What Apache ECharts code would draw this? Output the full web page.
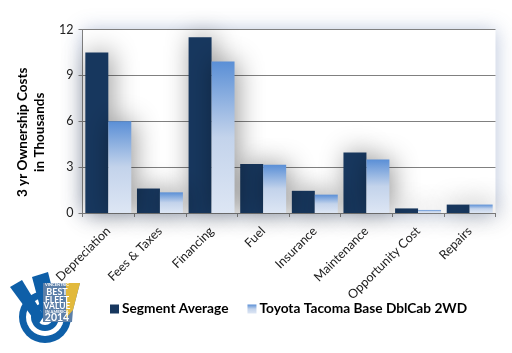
<!DOCTYPE html>
<html>
<head>
<meta charset="utf-8">
<style>
html, body { margin: 0; padding: 0; background: #fff; }
#chart { width: 512px; height: 353px; }
</style>
<script src="https://cdn.jsdelivr.net/npm/echarts@6/dist/echarts.min.js"></script>
</head>
<body>
<div id="chart"></div>
<script>
var categories = ['Depreciation', 'Fees & Taxes', 'Financing', 'Fuel', 'Insurance', 'Maintenance', 'Opportunity Cost', 'Repairs'];
var segmentAverage = [10.5, 1.6, 11.5, 3.2, 1.45, 3.95, 0.3, 0.55];
var toyotaTacoma = [6.0, 1.35, 9.9, 3.15, 1.2, 3.5, 0.2, 0.55];
var seriesNames = ['Segment Average', 'Toyota Tacoma Base DblCab 2WD'];
var yTitle = '3 yr Ownership Costs\nin Thousands';

var chart = echarts.init(document.getElementById('chart'));

var lightBar = new echarts.graphic.LinearGradient(0, 0, 0, 1, [
    {offset: 0, color: '#5a8fd6'},
    {offset: 0.5, color: '#c3d3eb'},
    {offset: 1, color: '#dde6f4'}
]);
var barShadow = {shadowBlur: 26, shadowColor: 'rgba(0,0,0,0.42)', shadowOffsetX: 3};

function badgeText(str, y, size) {
    return {
        type: 'text', x: 57, y: y,
        style: {text: str, fill: '#fff', font: 'bold ' + size + 'px Lato', align: 'center', verticalAlign: 'middle'}
    };
}

var option = {
    animation: false,
    backgroundColor: '#fff',
    textStyle: {fontFamily: 'Lato'},
    grid: {
        left: 82.5, right: 16.5, top: 29.5, bottom: 140,
        outerBoundsMode: 'none',
        show: true,
        backgroundColor: '#fff',
        borderWidth: 0,
        shadowBlur: 18,
        shadowColor: 'rgba(70,100,160,0.38)'
    },
    legend: {
        left: 105, top: 297,
        itemWidth: 9, itemHeight: 9, itemGap: 19,
        icon: 'rect',
        textStyle: {fontFamily: 'Lato', fontWeight: 'bold', fontSize: 13.7, color: '#000', padding: [0, 0, 0, -2]},
        data: seriesNames
    },
    xAxis: {
        type: 'category',
        data: categories,
        axisLine: {lineStyle: {color: '#808080', width: 1}},
        axisTick: {show: true, length: 4, lineStyle: {color: '#808080'}},
        axisLabel: {interval: 0, rotate: 45, fontSize: 12.5, color: '#222', margin: 16}
    },
    yAxis: {
        type: 'value',
        min: 0, max: 12, interval: 3,
        name: yTitle,
        nameLocation: 'middle',
        nameRotate: 90,
        nameGap: 34,
        nameTextStyle: {fontFamily: 'Lato', fontWeight: 'bold', fontSize: 13.5, color: '#000', lineHeight: 17, padding: [0, 22, 0, 0]},
        axisLine: {show: true, lineStyle: {color: '#808080', width: 1}},
        axisTick: {show: true, length: 4, lineStyle: {color: '#808080'}},
        axisLabel: {fontSize: 12.5, color: '#222', margin: 9},
        splitLine: {lineStyle: {color: '#808080', width: 1}}
    },
    series: [
        {
            name: seriesNames[0],
            type: 'bar',
            data: segmentAverage,
            barGap: '0%',
            barCategoryGap: '11%',
            itemStyle: Object.assign({color: '#17375e'}, barShadow)
        },
        {
            name: seriesNames[1],
            type: 'bar',
            data: toyotaTacoma,
            itemStyle: Object.assign({color: lightBar}, barShadow)
        }
    ],
    graphic: [
        // ring
        {type: 'circle', shape: {cx: 45, cy: 317, r: 26}, style: {fill: '#0e5fa8'}},
        {type: 'circle', shape: {cx: 45, cy: 317, r: 19}, style: {fill: '#fff'}},
        {type: 'circle', shape: {cx: 45, cy: 317, r: 14}, style: {fill: '#0e5fa8'}},
        {type: 'circle', shape: {cx: 45, cy: 317, r: 8}, style: {fill: '#fff'}},
        // check mark
        {type: 'polygon', shape: {points: [[10, 287], [22, 280], [44, 316], [38, 325]]}, style: {fill: '#0e5fa8'}},
        {type: 'polygon', shape: {points: [[32, 277], [48, 272], [55, 300], [44, 322]]}, style: {fill: '#0e5fa8'}},
        // shield
        {type: 'polygon', shape: {points: [[43, 283], [80, 283], [73, 310], [72, 322], [43, 322]]}, style: {fill: '#5c7fa8'}},
        {type: 'polygon', shape: {points: [[66, 283], [80, 283], [73, 310], [66, 318]]}, style: {fill: '#e2b93b'}},
        badgeText('VINCENTRIC', 285, 4),
        badgeText('BEST', 292, 9),
        badgeText('FLEET', 300, 8.5),
        badgeText('VALUE', 306.5, 8.5),
        badgeText('IN AMERICA', 311.5, 4),
        badgeText('2014', 317.5, 10.5)
    ]
};
chart.setOption(option);
</script>
</body>
</html>
